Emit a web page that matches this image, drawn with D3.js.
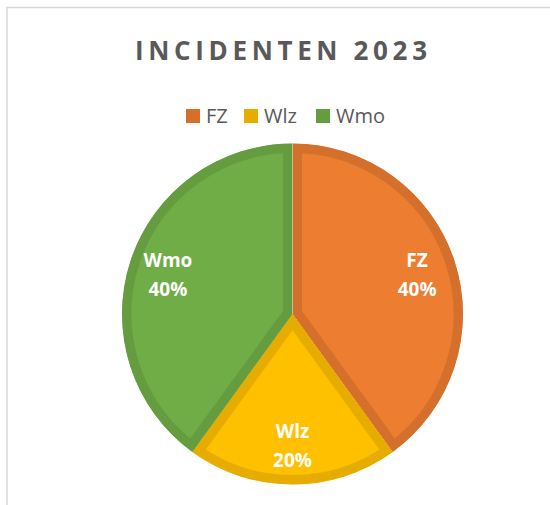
<!DOCTYPE html>
<html>
<head>
<meta charset="utf-8">
<script src="https://cdn.jsdelivr.net/npm/d3@7"></script>
<style>
  body { margin: 0; background: #fff; }
  svg { display: block; font-family: "Open Sans", sans-serif; }
</style>
</head>
<body>
<div id="chart"></div>
<script>
const title = "INCIDENTEN 2023";
const categories = ["FZ", "Wlz", "Wmo"];
const values = [40, 20, 40];
const fillColors = ["#ED7D31", "#FFC000", "#70AD47"];
const borderColors = ["#D5702C", "#E6AD00", "#659C40"];

const width = 550;
const height = 505;
// pie geometry
const cx = 292.5;
const cy = 314;
const radius = 170.5;
const borderWidth = 9.5;
const labelRadius = 131;

const svg = d3
  .select("#chart")
  .append("svg")
  .attr("width", width)
  .attr("height", height);

// chart area frame (left and top edges only are visible)
svg
  .append("rect")
  .attr("x", 7)
  .attr("y", 7.5)
  .attr("width", width + 20)
  .attr("height", height + 20)
  .attr("fill", "#fff")
  .attr("stroke", "#d9d9d9")
  .attr("stroke-width", 1.5);

// title, spacing chosen so it spans x 135..427 like the picture
const titleText = svg
  .append("text")
  .attr("x", 135)
  .attr("y", 59.5)
  .style("font-size", "26px")
  .style("font-weight", "bold")
  .style("fill", "#595959")
  .text(title);
const natural = titleText.node().getComputedTextLength();
const spacing = (292 - natural) / (title.length - 1);
titleText.style("letter-spacing", spacing + "px");

// legend
const legendX = [186, 244, 316];
const legend = svg
  .selectAll(".legend")
  .data(categories)
  .enter()
  .append("g")
  .attr("class", "legend")
  .attr("transform", (d, i) => `translate(${legendX[i]}, 109)`);

legend
  .append("rect")
  .attr("width", 14)
  .attr("height", 14)
  .attr("fill", (d, i) => borderColors[i]);

legend
  .append("text")
  .attr("x", 20)
  .attr("y", 13.5)
  .style("font-size", "20px")
  .style("fill", "#595959")
  .text((d) => d);

// pie
const total = d3.sum(values);
const pie = d3.pie().sort(null).value((d) => d);
const arcs = pie(values);
const arc = d3.arc().innerRadius(0).outerRadius(radius);
const labelArc = d3.arc().innerRadius(labelRadius).outerRadius(labelRadius);

const g = svg.append("g").attr("transform", `translate(${cx}, ${cy})`);
const defs = svg.append("defs");

defs
  .selectAll("clipPath")
  .data(arcs)
  .enter()
  .append("clipPath")
  .attr("id", (d, i) => "slice-clip-" + i)
  .append("path")
  .attr("d", arc);

// stroke doubled and clipped, so each slice gets an inner border
g.selectAll(".slice")
  .data(arcs)
  .enter()
  .append("path")
  .attr("class", "slice")
  .attr("d", arc)
  .attr("clip-path", (d, i) => `url(#slice-clip-${i})`)
  .attr("fill", (d, i) => fillColors[i])
  .attr("stroke", (d, i) => borderColors[i])
  .attr("stroke-width", borderWidth * 2)
  .attr("stroke-linejoin", "miter");

const labels = g
  .selectAll(".label")
  .data(arcs)
  .enter()
  .append("text")
  .attr("class", "label")
  .attr("transform", (d) => `translate(${labelArc.centroid(d)})`)
  .attr("text-anchor", "middle")
  .style("font-size", "19px")
  .style("font-weight", "bold")
  .style("fill", "#fff");

labels
  .append("tspan")
  .attr("x", 0)
  .attr("y", -7)
  .text((d, i) => categories[i]);

labels
  .append("tspan")
  .attr("x", 0)
  .attr("y", 22)
  .text((d) => d3.format(".0%")(d.value / total));
</script>
</body>
</html>
